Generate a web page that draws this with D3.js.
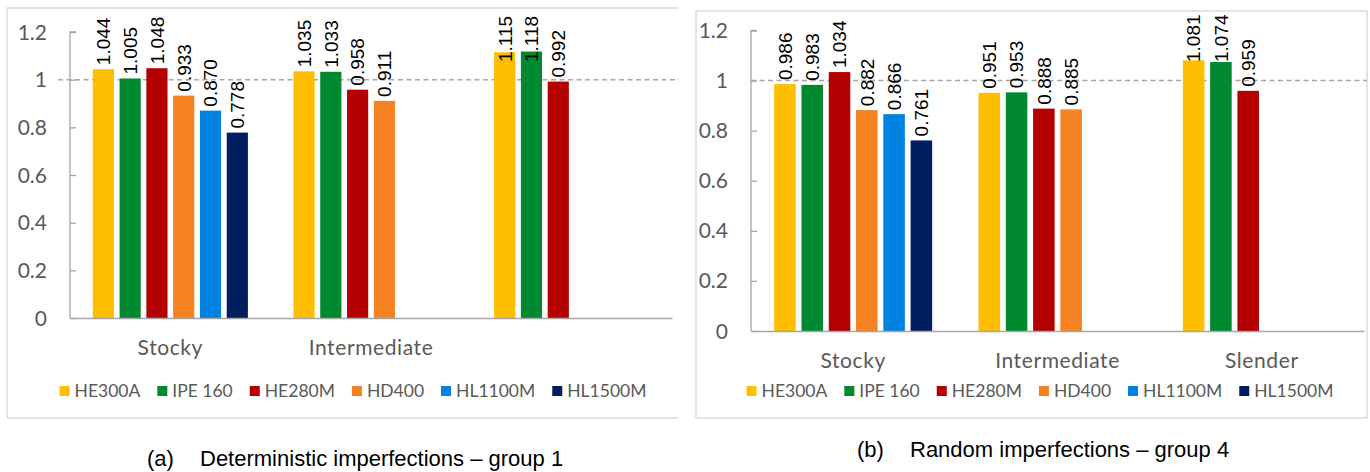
<!DOCTYPE html>
<html>
<head>
<meta charset="utf-8">
<script src="https://cdn.jsdelivr.net/npm/d3@7"></script>
<style>
  html, body { margin: 0; padding: 0; background: #fff; }
  svg { display: block; }
</style>
</head>
<body>
<svg id="chart" width="1370" height="472"></svg>
<script>
// ---------------- DATA ----------------
const categories = ["Stocky", "Intermediate", "Slender"];
const categoryLabelsA = ["Stocky", "Intermediate", ""];
const categoryLabelsB = ["Stocky", "Intermediate", "Slender"];
const seriesNames = ["HE300A", "IPE 160", "HE280M", "HD400", "HL1100M", "HL1500M"];
const seriesColors = ["#FFBE00", "#00892E", "#B40000", "#F58220", "#0082E0", "#001E60"];
const yTickValues = [0, 0.2, 0.4, 0.6, 0.8, 1, 1.2];
const yTickLabels = ["0", "0.2", "0.4", "0.6", "0.8", "1", "1.2"];
const referenceValue = 1;

// Panel (a) – deterministic imperfections, group 1 (per series, per category)
const aHE300A  = [1.044, 1.035, 1.115];
const aIPE160  = [1.005, 1.033, 1.118];
const aHE280M  = [1.048, 0.958, 0.992];
const aHD400   = [0.933, 0.911, null];
const aHL1100M = [0.870, null, null];
const aHL1500M = [0.778, null, null];

// Panel (b) – random imperfections, group 4
const bHE300A  = [0.986, 0.951, 1.081];
const bIPE160  = [0.983, 0.953, 1.074];
const bHE280M  = [1.034, 0.888, 0.959];
const bHD400   = [0.882, 0.885, null];
const bHL1100M = [0.866, null, null];
const bHL1500M = [0.761, null, null];

const captionA = ["(a)", "Deterministic imperfections \u2013 group 1"];
const captionB = ["(b)", "Random imperfections \u2013 group 4"];

// ---------------- DRAW ----------------
const svg = d3.select("#chart");
const CAL = "Lato, 'Open Sans', sans-serif";
const ARI = "'Liberation Sans', Arial, sans-serif";
const GRAY_TXT = "#595959";
const AXIS = "#a6a6a6";

function panel(cfg) {
  const g = svg.append("g");
  const series = cfg.series;

  // border
  g.append("path")
    .attr("d", cfg.borderPath)
    .attr("fill", "none").attr("stroke", "#dcdcdc").attr("stroke-width", 1.5);

  const y = d3.scaleLinear().domain([0, 1.2]).range([cfg.y0, cfg.y1]);
  const x0 = d3.scaleBand().domain(categories).range([cfg.xl, cfg.xr]);
  const x1 = d3.scaleBand().domain(seriesNames).range([0, x0.bandwidth()])
    .paddingInner(0.21).paddingOuter(0.85);

  // dashed reference line
  g.append("line")
    .attr("x1", cfg.dashL).attr("x2", cfg.dashR)
    .attr("y1", y(referenceValue)).attr("y2", y(referenceValue))
    .attr("stroke", "#a8a8a8").attr("stroke-width", 1.5)
    .attr("stroke-dasharray", "5,3.5");

  // y axis
  const yAxis = d3.axisRight(y).tickValues(yTickValues).tickSize(6).tickFormat("");
  const ya = g.append("g").attr("transform", `translate(${cfg.xl},0)`).call(yAxis);
  ya.select(".domain").attr("stroke", AXIS).attr("stroke-width", 1.3)
    .attr("d", `M6,${cfg.y1}H0V${cfg.y0}`);
  ya.selectAll(".tick line").attr("stroke", AXIS).attr("stroke-width", 1.3);

  // y tick labels
  g.selectAll(".ylab").data(yTickValues).enter().append("text")
    .attr("x", cfg.tickLabelRight).attr("y", d => y(d))
    .attr("dy", "0.36em").attr("text-anchor", "end")
    .attr("font-family", CAL).attr("font-size", 21).attr("fill", GRAY_TXT)
    .text((d, i) => yTickLabels[i]);

  // bars
  const flat = [];
  categories.forEach((c, ci) => {
    seriesNames.forEach((s, si) => {
      const v = series[si][ci];
      if (v !== null && v !== undefined) flat.push({ c, s, si, v });
    });
  });

  g.selectAll(".bar").data(flat).enter().append("rect")
    .attr("x", d => x0(d.c) + x1(d.s))
    .attr("y", d => y(d.v))
    .attr("width", x1.bandwidth())
    .attr("height", d => y(0) - y(d.v))
    .attr("fill", d => seriesColors[d.si]);

  // x axis line
  const xa = g.append("g").attr("transform", `translate(0,${cfg.y0})`)
    .call(d3.axisBottom(x0).tickSize(0).tickFormat(""));
  xa.select(".domain").attr("stroke", AXIS).attr("stroke-width", 1.6);

  // value labels (rotated)
  g.selectAll(".vlab").data(flat).enter().append("text")
    .attr("transform", d => {
      const cx = x0(d.c) + x1(d.s) + x1.bandwidth() / 2;
      const bottom = Math.max(y(d.v) - 4, cfg.labelTop + 48);
      return `translate(${cx},${bottom}) rotate(-90)`;
    })
    .attr("dy", "0.36em")
    .attr("font-family", ARI).attr("font-size", 19).attr("fill", "#000")
    .text(d => d.v.toFixed(3));

  // category labels
  g.selectAll(".clab").data(categories).enter().append("text")
    .attr("x", d => x0(d) + x0.bandwidth() / 2)
    .attr("y", cfg.catBaseline)
    .attr("text-anchor", "middle")
    .attr("font-family", CAL).attr("font-size", 21).attr("fill", GRAY_TXT)
    .attr("letter-spacing", 0.6)
    .text((d, i) => cfg.catLabels[i]);

  // legend
  const lg = g.append("g");
  const items = lg.selectAll(".li").data(seriesNames).enter().append("g");
  items.append("rect").attr("width", 10).attr("height", 10)
    .attr("y", cfg.legendY - 5)
    .attr("fill", (d, i) => seriesColors[i]);
  items.append("text").attr("x", 15).attr("y", cfg.legendY).attr("dy", "0.36em")
    .attr("font-family", CAL).attr("font-size", 17.5).attr("fill", GRAY_TXT)
    .text(d => d);
  let cur = 0;
  const gapItems = 17;
  items.each(function () {
    const w = 15 + d3.select(this).select("text").node().getComputedTextLength();
    d3.select(this).attr("transform", `translate(${cur},0)`);
    cur += w + gapItems;
  });
  const total = cur - gapItems;
  lg.attr("transform", `translate(${cfg.legendCenter - total / 2},0)`);

  // caption
  g.append("text").attr("x", cfg.capX).attr("y", cfg.capY)
    .attr("font-family", ARI).attr("font-size", 22).attr("fill", "#000")
    .text(cfg.caption[0]);
  g.append("text").attr("x", cfg.capX + 53).attr("y", cfg.capY)
    .attr("font-family", ARI).attr("font-size", 22).attr("fill", "#000")
    .text(cfg.caption[1]);
}

panel({
  series: [aHE300A, aIPE160, aHE280M, aHD400, aHL1100M, aHL1500M],
  catLabels: categoryLabelsA,
  borderPath: "M7,418V8H678M7,418H678",
  xl: 70, xr: 672, y0: 318, y1: 32,
  dashL: 58, dashR: 679,
  tickLabelRight: 47,
  labelTop: 14,
  catBaseline: 355,
  legendY: 391, legendCenter: 353,
  caption: captionA, capX: 147, capY: 466
});

panel({
  series: [bHE300A, bIPE160, bHE280M, bHD400, bHL1100M, bHL1500M],
  catLabels: categoryLabelsB,
  borderPath: "M696,418V11H1367V418H696",
  xl: 751, xr: 1364, y0: 331, y1: 30.5,
  dashL: 751, dashR: 1367,
  tickLabelRight: 728,
  labelTop: 14,
  catBaseline: 368,
  legendY: 391, legendCenter: 1040,
  caption: captionB, capX: 857, capY: 457
});
</script>
</body>
</html>
